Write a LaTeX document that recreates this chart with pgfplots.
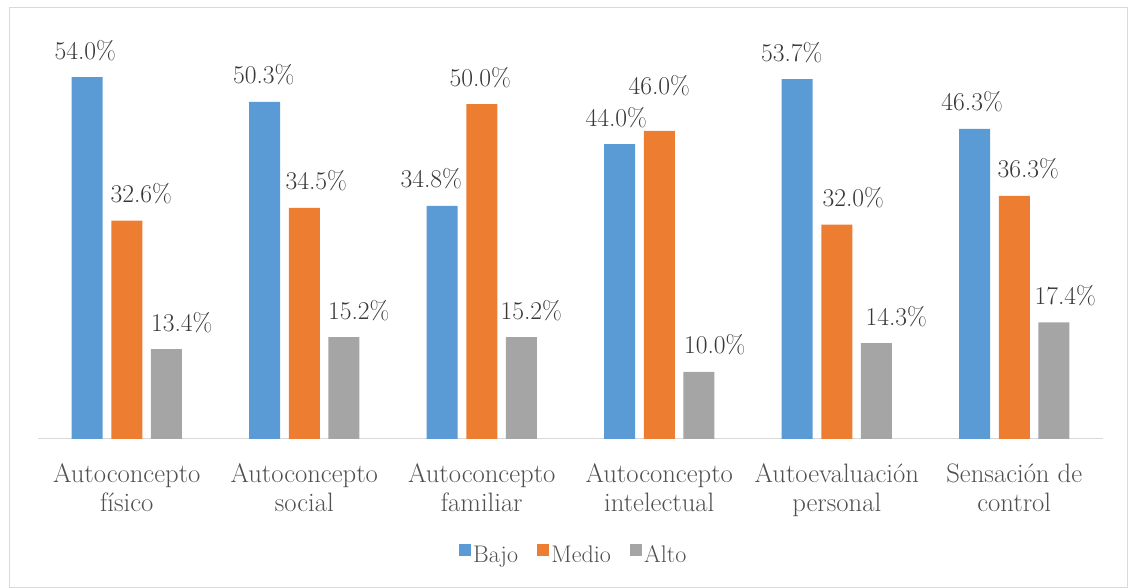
\documentclass[border=0pt]{standalone}
\usepackage{pgfplots}
\pgfplotsset{compat=1.18}
\usepackage{pgfplotstable}
\definecolor{cBajo}{HTML}{5B9BD5}
\definecolor{cMedio}{HTML}{ED7D31}
\definecolor{cAlto}{HTML}{A5A5A5}
\definecolor{cAxis}{HTML}{D9D9D9}
\definecolor{cTxt}{HTML}{505050}
\definecolor{cLab}{HTML}{383838}

\pgfplotstableread{
x y dx dy
0 54.0 -1.5 13.5
1 50.3 -0.75 13.5
2 34.8 -8.25 13.5
3 44.0 -2.6 13.5
4 53.7 -4.1 13.5
5 46.3 -1.9 13.5
}\bajo
\pgfplotstableread{
x y dx dy
0 32.6 10.9 13.5
1 34.5 9.0 13.5
2 50.0 -1.1 13.5
3 46.0 0 27
4 32.0 12.4 13.5
5 36.3 10.5 13.5
}\medio
\pgfplotstableread{
x y dx dy
0 13.4 11.6 13.5
1 15.2 11.25 13.5
2 15.2 7.5 13.5
3 10.0 12.0 13.5
4 14.3 15.0 13.5
5 17.4 8.6 13.5
}\alto

\begin{document}
\begin{tikzpicture}
\path[use as bounding box] (0,0) rectangle (846pt,441pt);
\draw[cAxis, line width=0.75pt] (6.75pt,0.5pt) rectangle (845.5pt,435pt);
\begin{axis}[
  at={(28.5pt,111.75pt)}, anchor=south west,
  scale only axis, width=798.75pt, height=301.5pt,
  xmin=-0.5, xmax=5.5, ymin=0, ymax=60,
  clip=false,
  /pgf/number format/assume math mode=true,
  ybar=6.4pt, bar width=23.25pt,
  axis x line*=bottom, axis y line=none,
  x axis line style={cAxis, line width=0.75pt},
  xtick={0,1,2,3,4,5},
  xticklabels={{Autoconcepto\\físico},{Autoconcepto\\social},{Autoconcepto\\familiar},{Autoconcepto\\intelectual},{Autoevaluación\\personal},{Sensación de\\control}},
  major tick length=0pt,
  xticklabel style={align=center, font=\rmfamily\fontsize{20}{21.5}\selectfont, text=cTxt, anchor=north, inner sep=0pt, yshift=-18.5pt},
  visualization depends on={\thisrow{dx} \as \dx},
  visualization depends on={\thisrow{dy} \as \dy},
  nodes near coords={\pgfmathprintnumber[fixed,fixed zerofill,precision=1]{\pgfplotspointmeta}\%},
  every node near coord/.append style={font=\rmfamily\fontsize{19.2}{20}\selectfont, text=cLab, anchor=base, yshift=\dy pt, xshift=\dx pt},
  legend style={at={(0.503,-0.2886)}, anchor=center, draw=none, fill=none,
    font=\rmfamily\fontsize{18}{19}\selectfont, text=cTxt,
    nodes={inner xsep=1.5pt},
    /tikz/every even column/.append style={column sep=13pt}},
  legend columns=3,
  legend image code/.code={\fill[#1, draw=none] (0pt,-0.5pt) rectangle (9pt,8.5pt);},
]
\addplot[fill=cBajo, draw=none] table[x=x,y=y] {\bajo};
\addplot[fill=cMedio, draw=none] table[x=x,y=y] {\medio};
\addplot[fill=cAlto, draw=none] table[x=x,y=y] {\alto};
\legend{Bajo,Medio,Alto}
\end{axis}
\end{tikzpicture}
\end{document}
